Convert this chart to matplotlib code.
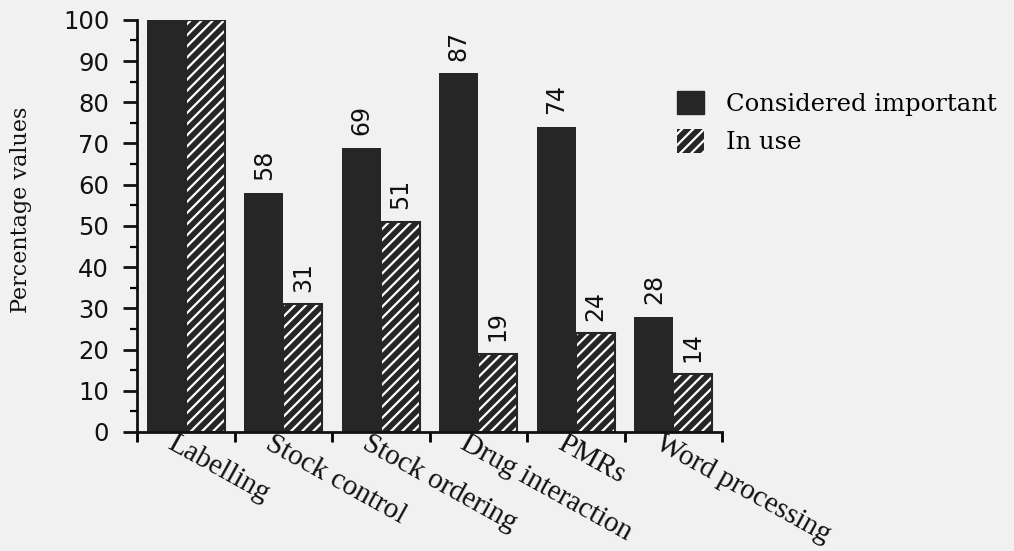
import numpy as np
import matplotlib.pyplot as plt
from matplotlib.patches import Patch

categories = ['Labelling', 'Stock control', 'Stock ordering',
              'Drug interaction', 'PMRs', 'Word processing']
important = [100, 58, 69, 87, 74, 28]
in_use = [100, 31, 51, 19, 24, 14]
# the Labelling pair carries no value labels
show_values = [False, True, True, True, True, True]

dark = '#262626'
bg = '#f1f1f1'

plt.rcParams['hatch.linewidth'] = 1.6

fig = plt.figure(figsize=(10.14, 5.51), dpi=100, facecolor=bg)
ax = fig.add_axes([0.1351, 0.216, 0.577, 0.748], facecolor=bg)

x = np.arange(len(categories))
w = 0.4

ax.bar(x - w / 2, important, w, color=dark, linewidth=0)
ax.bar(x + w / 2, in_use, w, facecolor=dark, edgecolor='white',
       hatch='///', linewidth=0)
ax.bar(x + w / 2, in_use, w, fill=False, edgecolor=dark, linewidth=1.5)

for i in range(len(categories)):
    if not show_values[i]:
        continue
    for xpos, val in ((x[i] - w / 2, important[i]), (x[i] + w / 2, in_use[i])):
        ax.annotate(str(val), (xpos, val), xytext=(0, 9),
                    textcoords='offset points', rotation=90,
                    ha='center', va='bottom', fontsize=17,
                    family='DejaVu Sans', color='#111111')

ax.set_xlim(-0.5, len(categories) - 0.5)
ax.set_ylim(0, 100)
ax.set_yticks(range(0, 101, 10))
ax.set_yticks(range(5, 100, 10), minor=True)
ax.set_xticks(np.arange(-0.5, len(categories), 1.0))
ax.set_xticklabels([])

ax.tick_params(axis='y', which='major', length=10, width=2, pad=10,
               labelsize=17.5, colors='#111111')
ax.tick_params(axis='y', which='minor', length=5, width=1.6)
ax.tick_params(axis='x', which='major', length=7, width=2)

for s in ('top', 'right'):
    ax.spines[s].set_visible(False)
for s in ('left', 'bottom'):
    ax.spines[s].set_linewidth(2)
    ax.spines[s].set_color('#111111')

# slanted category names under each group
for i, name in enumerate(categories):
    ax.text(x[i] - 0.1, 0.004, name, transform=ax.get_xaxis_transform(),
            rotation=-29, rotation_mode='anchor', ha='left', va='top',
            fontsize=21, family='Liberation Serif', color='#111111')

ax.set_ylabel('Percentage values', family='DejaVu Serif', fontsize=16,
              color='#111111')
ax.yaxis.set_label_coords(-0.18, 0.54)

handles = [Patch(facecolor=dark, edgecolor=dark),
           Patch(facecolor=dark, edgecolor='white', hatch='///', linewidth=0)]
fig.legend(handles, ['Considered important', 'In use'],
           loc='upper left', bbox_to_anchor=(0.668, 0.835), frameon=False,
           borderpad=0, borderaxespad=0, handlelength=1.1, handleheight=1.1,
           handletextpad=0.9, labelspacing=0.55,
           prop={'family': 'DejaVu Serif', 'size': 17.5})

fig.savefig('out.png', dpi=100, facecolor=bg)
